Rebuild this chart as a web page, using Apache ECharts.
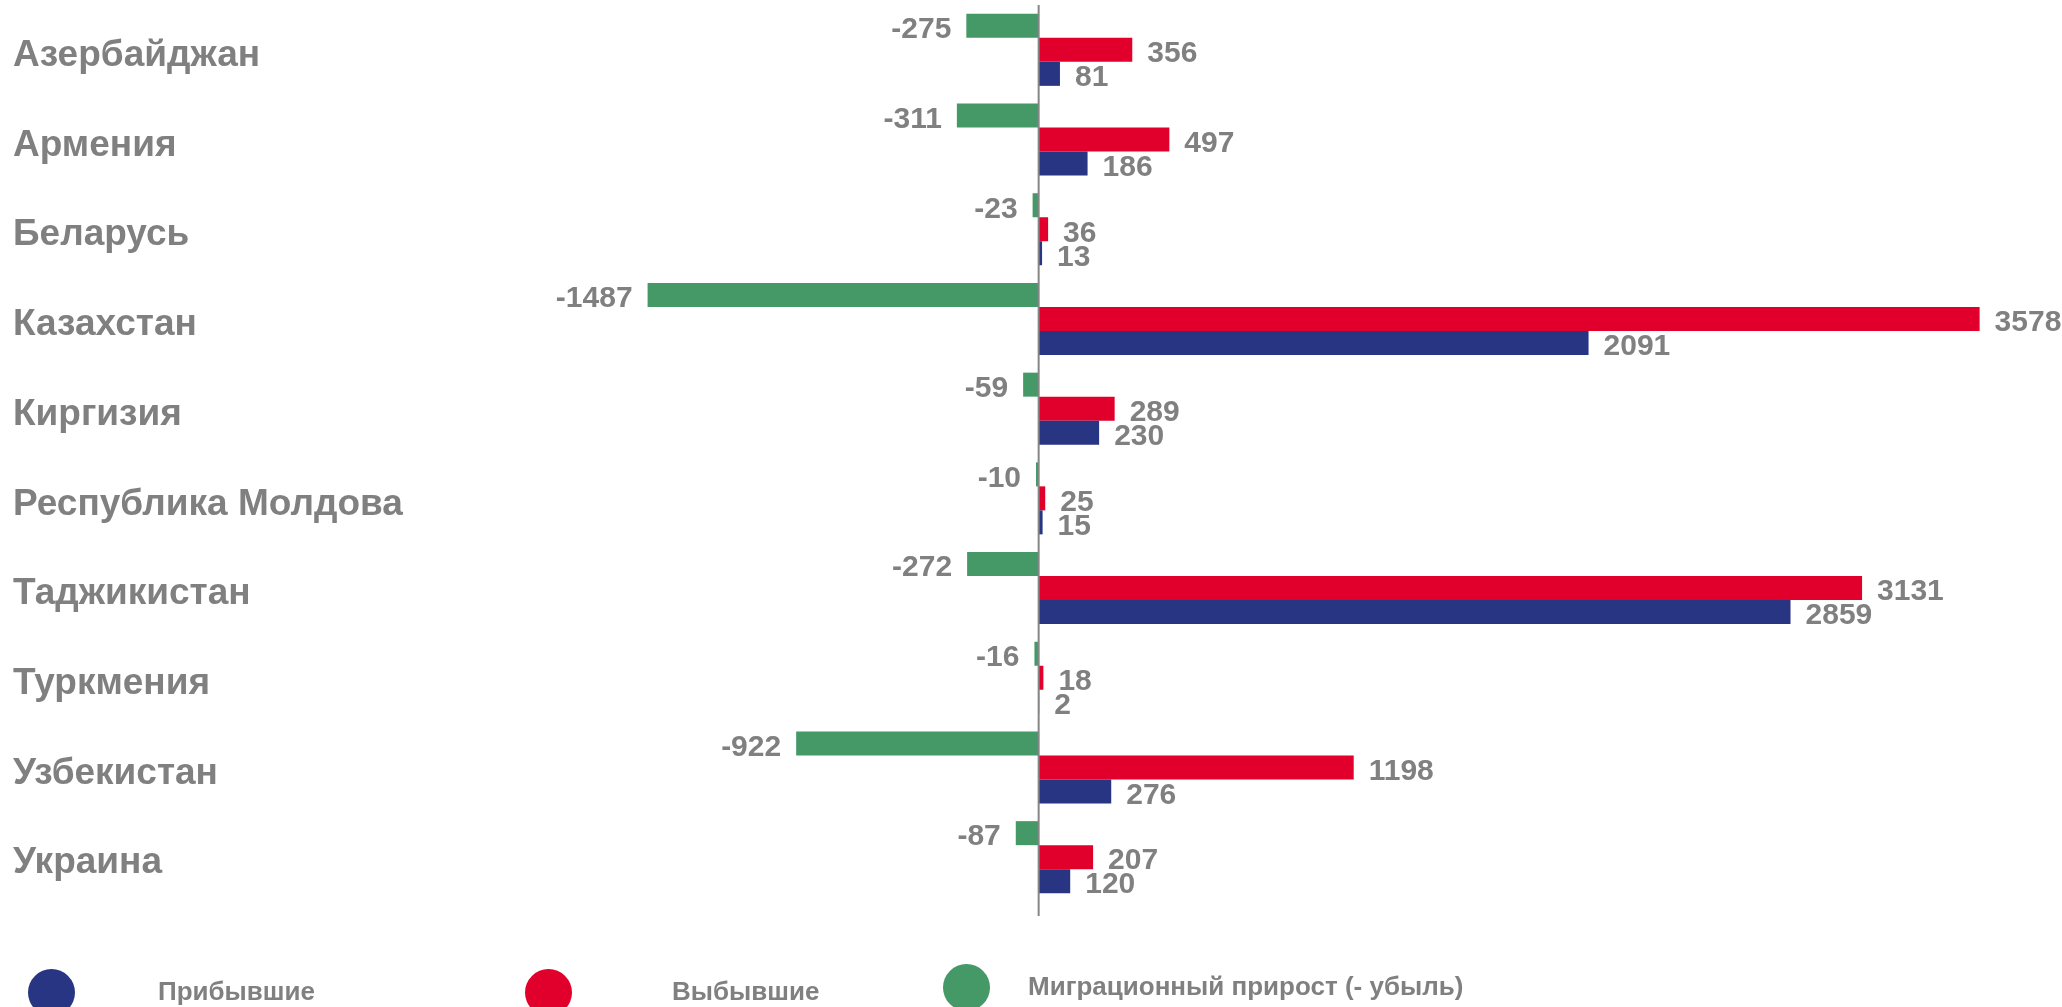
<!DOCTYPE html>
<html>
<head>
<meta charset="utf-8">
<script src="https://cdn.jsdelivr.net/npm/echarts@6/dist/echarts.min.js"></script>
<style>
    html, body { margin: 0; padding: 0; background: #fff; }
    #chart { width: 2062px; height: 1007px; }
</style>
</head>
<body>
<div id="chart"></div>
<script>
const countries = ['Азербайджан', 'Армения', 'Беларусь', 'Казахстан', 'Киргизия',
    'Республика Молдова', 'Таджикистан', 'Туркмения', 'Узбекистан', 'Украина']
const arrived = [81, 186, 13, 2091, 230, 15, 2859, 2, 276, 120]
const departed = [356, 497, 36, 3578, 289, 25, 3131, 18, 1198, 207]
const netGrowth = [-275, -311, -23, -1487, -59, -10, -272, -16, -922, -87]

const FONT = '"Liberation Sans", Arial, sans-serif'
const GREY = '#808080'

const labelStyle = (position) => ({
    show: true,
    position,
    distance: 15,
    offset: [0, 4],
    fontFamily: FONT,
    fontSize: 30,
    fontWeight: 'bold',
    color: GREY
})

const legendItem = (name, left, top, padding) => ({
    data: [name],
    orient: 'horizontal',
    left,
    top,
    padding: 0,
    icon: 'circle',
    itemWidth: 47,
    itemHeight: 47,
    selectedMode: false,
    textStyle: {
        fontFamily: FONT,
        fontSize: 26,
        fontWeight: 'bold',
        color: GREY,
        padding
    }
})

const chart = echarts.init(document.getElementById('chart'))
chart.setOption({
    animation: false,
    grid: {
        left: 13,
        top: 5,
        width: 2025,
        height: 897,
        containLabel: false,
        outerBoundsMode: 'none'
    },
    legend: [
        legendItem('Прибывшие', 28, 969, [0, 0, 0, 78]),
        legendItem('Выбывшие', 525, 969, [6, 0, 0, 95]),
        legendItem('Миграционный прирост (- убыль)', 943, 964, [0, 0, 12, 33])
    ],
    xAxis: {
        type: 'value',
        min: -3900,
        max: 3800,
        show: false,
        splitLine: { show: false }
    },
    yAxis: {
        type: 'category',
        inverse: true,
        data: countries,
        axisTick: { show: false },
        axisLine: { show: false, onZero: false },
        axisLabel: {
            inside: true,
            margin: 0,
            align: 'left',
            formatter: (v) => '{c|' + v + '}',
            rich: {
                c: {
                    padding: [12, 0, 0, 0],
                    fontFamily: FONT,
                    fontSize: 37,
                    fontWeight: 'bold',
                    color: GREY
                }
            }
        },
        splitLine: { show: false }
    },
    series: [
        {
            name: 'Миграционный прирост (- убыль)',
            type: 'bar',
            data: netGrowth,
            barWidth: 24,
            barGap: '0%',
            itemStyle: { color: '#449966' },
            label: labelStyle('left')
        },
        {
            name: 'Выбывшие',
            type: 'bar',
            data: departed,
            barWidth: 24,
            barGap: '0%',
            itemStyle: { color: '#E1002C' },
            label: labelStyle('right')
        },
        {
            name: 'Прибывшие',
            type: 'bar',
            data: arrived,
            barWidth: 24,
            barGap: '0%',
            itemStyle: { color: '#283583' },
            label: labelStyle('right')
        }
    ]
})

// вертикальная линия нуля, чуть длиннее сетки, как в оригинале
const zeroX = chart.convertToPixel({ gridIndex: 0 }, [0, 0])[0]
chart.setOption({
    graphic: [{
        type: 'line',
        silent: true,
        z: 10,
        shape: { x1: zeroX, y1: 5, x2: zeroX, y2: 916 },
        style: { stroke: '#868686', lineWidth: 2 }
    }]
})
</script>
</body>
</html>
